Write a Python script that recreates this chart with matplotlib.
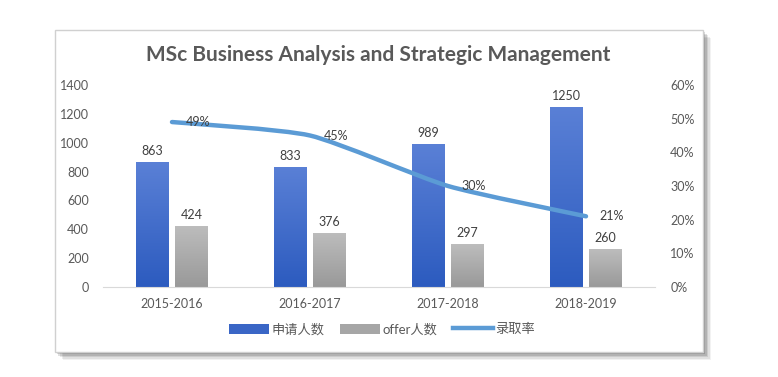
import numpy as np
import matplotlib
matplotlib.use('Agg')
import matplotlib.pyplot as plt
from matplotlib.colors import LinearSegmentedColormap
from matplotlib.patches import Rectangle, Patch, PathPatch
from matplotlib.lines import Line2D
from matplotlib.path import Path

plt.rcParams['font.family'] = ['Lato', 'Noto Sans CJK SC', 'DejaVu Sans']

# データ
years = ['2015-2016', '2016-2017', '2017-2018', '2018-2019']
applicants = [863, 833, 989, 1250]
offers = [424, 376, 297, 260]
rate = [49, 45, 30, 21]

W, H = 778, 377
fig = plt.figure(figsize=(W / 100, H / 100), dpi=100)
fig.patch.set_facecolor('white')

def box(x0, y0, x1, y1):
    # ピクセル座標 -> figure座標
    return (x0 / W, 1 - y1 / H), (x1 - x0) / W, (y1 - y0) / H

# カードの影
for i, a in enumerate([0.05, 0.07, 0.09, 0.12, 0.15]):
    d = 8 - i * 1.5
    xy, w, h = box(55 + d, 30 + d, 703 + d, 352 + d)
    fig.patches.append(Rectangle(xy, w, h, transform=fig.transFigure,
                                 facecolor='black', alpha=a, edgecolor='none', zorder=0))
xy, w, h = box(55, 30, 703, 352)
fig.patches.append(Rectangle(xy, w, h, transform=fig.transFigure,
                             facecolor='white', edgecolor='#d0d0d0', lw=1, zorder=1))

xy, w, h = box(103, 85, 655, 287)
ax = fig.add_axes([xy[0], xy[1], w, h])
ax.set_zorder(2)
ax.patch.set_alpha(0)

x = np.arange(len(years))
bw = 0.235

def grad_bar(ax, xc, val, c_top, c_bot):
    bar = ax.bar(xc, val, bw, color='none', edgecolor='none')[0]
    grad = np.linspace(0, 1, 256).reshape(-1, 1)
    cmap = LinearSegmentedColormap.from_list('g', [c_bot, c_top])
    im = ax.imshow(grad, extent=[xc - bw / 2, xc + bw / 2, 0, val], origin='lower',
                   cmap=cmap, aspect='auto', zorder=2)
    im.set_clip_path(bar)
    ax.text(xc, val + 35, str(val), ha='center', va='bottom', fontsize=9, color='#404040')

for i in range(len(years)):
    grad_bar(ax, x[i] - 0.145, applicants[i], '#5a80d6', '#2c5bbf')
    grad_bar(ax, x[i] + 0.14, offers[i], '#bdbdbd', '#999999')

ax.set_xlim(-0.5, 3.5)
ax.set_ylim(0, 1400)
ax.set_yticks(range(0, 1401, 200))
ax.set_xticks(x)
ax.set_xticklabels(years)
ax.tick_params(axis='both', length=0, labelsize=9, colors='#595959')
ax.tick_params(axis='y', pad=10)
ax.tick_params(axis='x', pad=8)
for s in ['top', 'right', 'left']:
    ax.spines[s].set_visible(False)
ax.spines['bottom'].set_color('#d9d9d9')

ax2 = ax.twinx()
ax2.set_ylim(0, 60)
ax2.set_yticks(range(0, 61, 10))
ax2.set_yticklabels([f'{v}%' for v in range(0, 61, 10)])
ax2.tick_params(axis='y', length=0, labelsize=9, colors='#595959', pad=11)
for s in ax2.spines.values():
    s.set_visible(False)

# 平滑線 (Excel風、弱めの張力)
pts = np.column_stack([x, rate]).astype(float)
verts = [tuple(pts[0])]
codes = [Path.MOVETO]
k = 10.0
for i in range(len(pts) - 1):
    p0 = pts[max(i - 1, 0)]
    p1 = pts[i]
    p2 = pts[i + 1]
    p3 = pts[min(i + 2, len(pts) - 1)]
    c1 = p1 + (p2 - p0) / k
    c2 = p2 - (p3 - p1) / k
    verts += [tuple(c1), tuple(c2), tuple(p2)]
    codes += [Path.CURVE4] * 3
ax2.add_patch(PathPatch(Path(verts, codes), facecolor='none', edgecolor='#5b9bd5',
                        lw=3.2, capstyle='round', zorder=3))
for xi, r in zip(x, rate):
    ax2.annotate(f'{r}%', (xi, r), xytext=(10, 0), textcoords='offset points',
                 ha='left', va='center', fontsize=9, color='#404040')

fig.text(0.486, 1 - 55 / H, 'MSc Business Analysis and Strategic Management',
         ha='center', va='center', fontsize=15, fontweight='bold', color='#595959')

handles = [Patch(facecolor='#3a66c6', edgecolor='none'),
           Patch(facecolor='#a6a6a6', edgecolor='none'),
           Line2D([0], [0], color='#5b9bd5', lw=3.2)]
fig.legend(handles, ['申请人数', 'offer人数', '录取率'], loc='center',
           bbox_to_anchor=(382 / W, 1 - 329 / H), ncol=3, frameon=False,
           fontsize=9.5, handlelength=3.0, handleheight=0.8, handletextpad=0.2,
           columnspacing=1.2, labelcolor='#595959')

fig.savefig('out.png', dpi=100)
